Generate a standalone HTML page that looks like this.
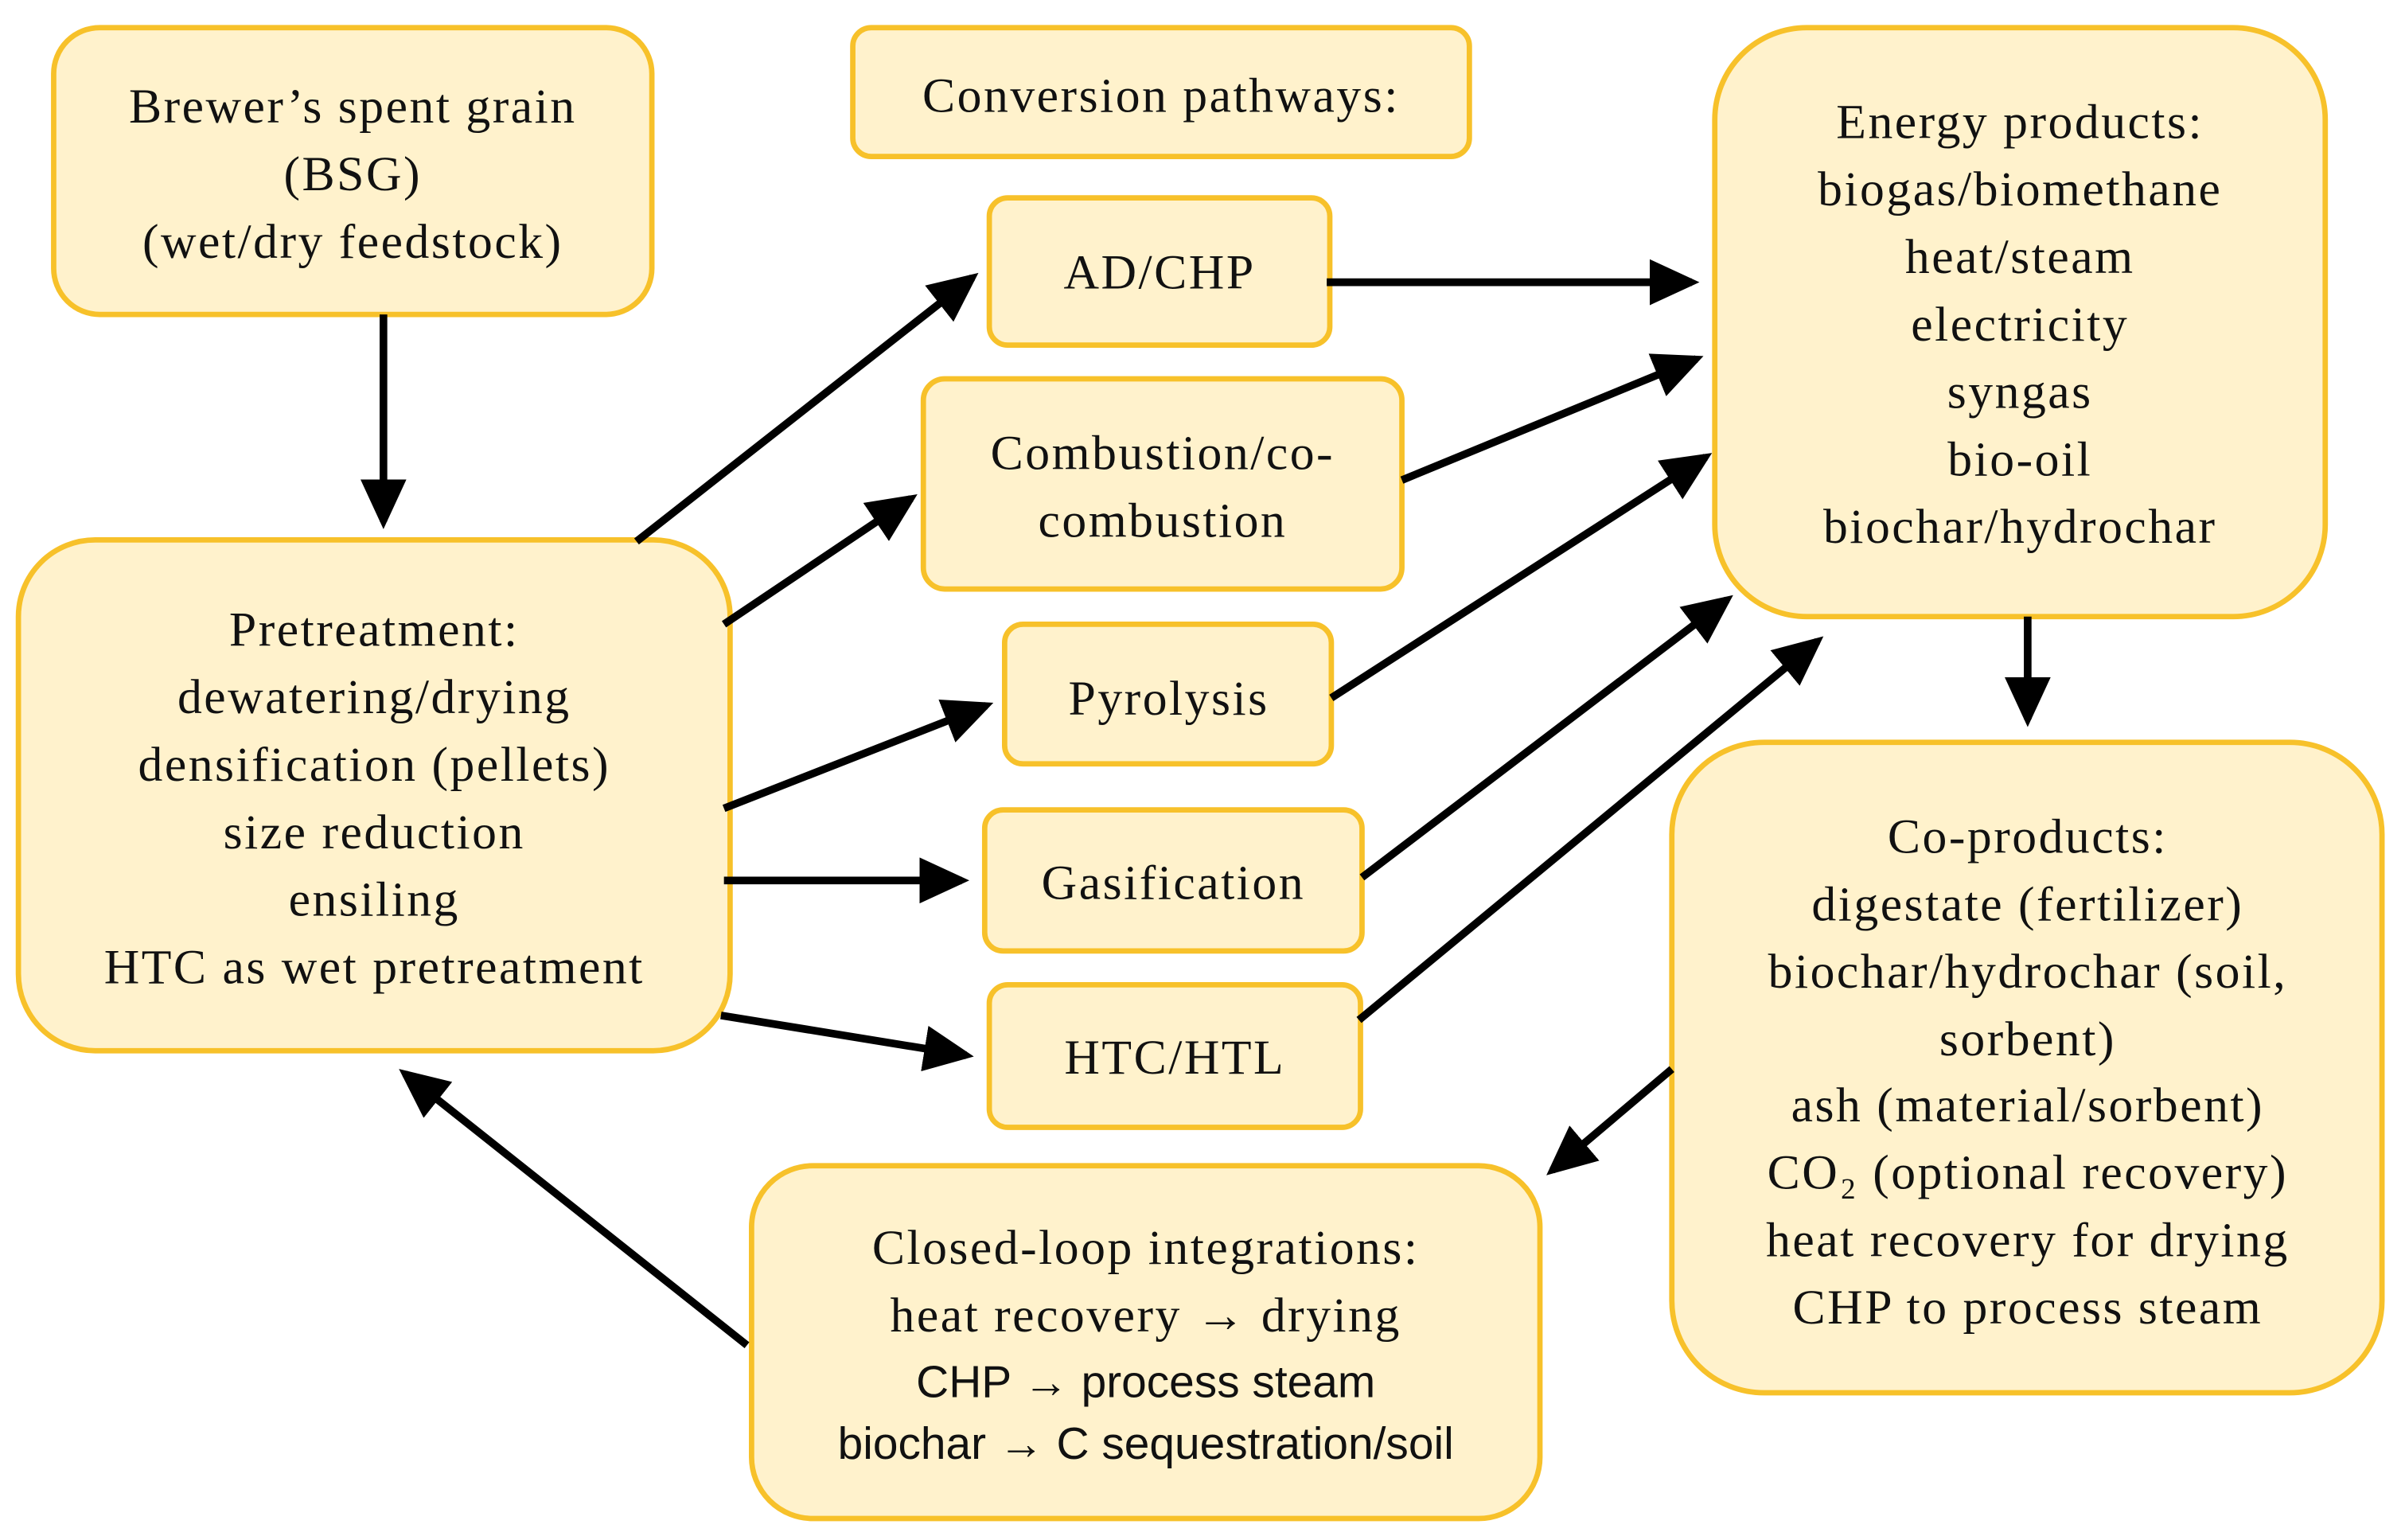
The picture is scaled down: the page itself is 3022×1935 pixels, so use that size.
<!DOCTYPE html>
<html><head><meta charset="utf-8"><style>
html,body{margin:0;padding:0;background:#fff;}
svg{display:block;}
.b{fill:#fff2cc;stroke:#f7c12a;stroke-width:3.5;}
text{font-family:"Liberation Serif",serif;font-size:32px;letter-spacing:1.3px;fill:#111;text-anchor:middle;}
.s{font-family:"Liberation Sans",sans-serif;font-size:29.5px;letter-spacing:0;}
.a{stroke:#000;stroke-width:5;fill:none;marker-end:url(#ah);}
</style></head><body>
<svg width="3022" height="1935" viewBox="0 0 1568 1004" preserveAspectRatio="none" xmlns="http://www.w3.org/2000/svg">
<defs><marker id="ah" markerWidth="6.5" markerHeight="6" refX="5.5" refY="3" orient="auto" markerUnits="strokeWidth"><path d="M0,0 L6.5,3 L0,6 z" fill="#000"/></marker></defs>
<rect class="b" x="35" y="18" width="390" height="187" rx="30"/>
<text x="230" y="80">Brewer’s spent grain</text><text x="230" y="124">(BSG)</text><text x="230" y="168">(wet/dry feedstock)</text>
<rect class="b" x="556" y="18" width="402" height="84" rx="12"/>
<text x="757" y="73">Conversion pathways:</text>
<rect class="b" x="1118" y="18" width="398" height="384" rx="60"/>
<text x="1317" y="90">Energy products:</text><text x="1317" y="134">biogas/biomethane</text><text x="1317" y="178">heat/steam</text><text x="1317" y="222">electricity</text><text x="1317" y="266">syngas</text><text x="1317" y="310">bio-oil</text><text x="1317" y="354">biochar/hydrochar</text>
<rect class="b" x="645" y="129" width="222" height="96" rx="12"/><text x="756" y="188">AD/CHP</text>
<rect class="b" x="602" y="247" width="312" height="137" rx="14"/><text x="758" y="306">Combustion/co-</text><text x="758" y="350">combustion</text>
<rect class="b" x="655" y="407" width="213" height="91" rx="12"/><text x="762" y="466">Pyrolysis</text>
<rect class="b" x="642" y="528" width="246" height="92" rx="12"/><text x="765" y="586">Gasification</text>
<rect class="b" x="645" y="642" width="242" height="93" rx="12"/><text x="766" y="700">HTC/HTL</text>
<rect class="b" x="12" y="352" width="464" height="333" rx="50"/>
<text x="244" y="421">Pretreatment:</text><text x="244" y="465">dewatering/drying</text><text x="244" y="509">densification (pellets)</text><text x="244" y="553">size reduction</text><text x="244" y="597">ensiling</text><text x="244" y="641">HTC as wet pretreatment</text>
<rect class="b" x="1090" y="484" width="463" height="424" rx="60"/>
<text x="1322" y="556">Co-products:</text><text x="1322" y="600">digestate (fertilizer)</text><text x="1322" y="644">biochar/hydrochar (soil,</text><text x="1322" y="688">sorbent)</text><text x="1322" y="731">ash (material/sorbent)</text><text x="1322" y="775">CO₂ (optional recovery)</text><text x="1322" y="819">heat recovery for drying</text><text x="1322" y="863">CHP to process steam</text>
<rect class="b" x="490" y="760" width="514" height="230" rx="40"/>
<text x="747" y="824">Closed-loop integrations:</text><text x="747" y="868">heat recovery → drying</text>
<text class="s" x="747" y="911">CHP → process steam</text><text class="s" x="747" y="951">biochar → C sequestration/soil</text>
<line class="a" x1="250" y1="205" x2="250" y2="340"/>
<line class="a" x1="415" y1="353" x2="634" y2="181"/>
<line class="a" x1="472" y1="407" x2="594" y2="325"/>
<line class="a" x1="472" y1="527" x2="643" y2="460"/>
<line class="a" x1="472" y1="574" x2="627" y2="574"/>
<line class="a" x1="470" y1="662" x2="630" y2="688"/>
<line class="a" x1="865" y1="184" x2="1103" y2="184"/>
<line class="a" x1="914" y1="313" x2="1106" y2="234"/>
<line class="a" x1="868" y1="455" x2="1112" y2="298"/>
<line class="a" x1="888" y1="572" x2="1126" y2="391"/>
<line class="a" x1="886" y1="665" x2="1185" y2="418"/>
<line class="a" x1="1322" y1="402" x2="1322" y2="469"/>
<line class="a" x1="1090" y1="697" x2="1012" y2="763"/>
<line class="a" x1="487" y1="877" x2="264" y2="700"/>
</svg>
</body></html>
